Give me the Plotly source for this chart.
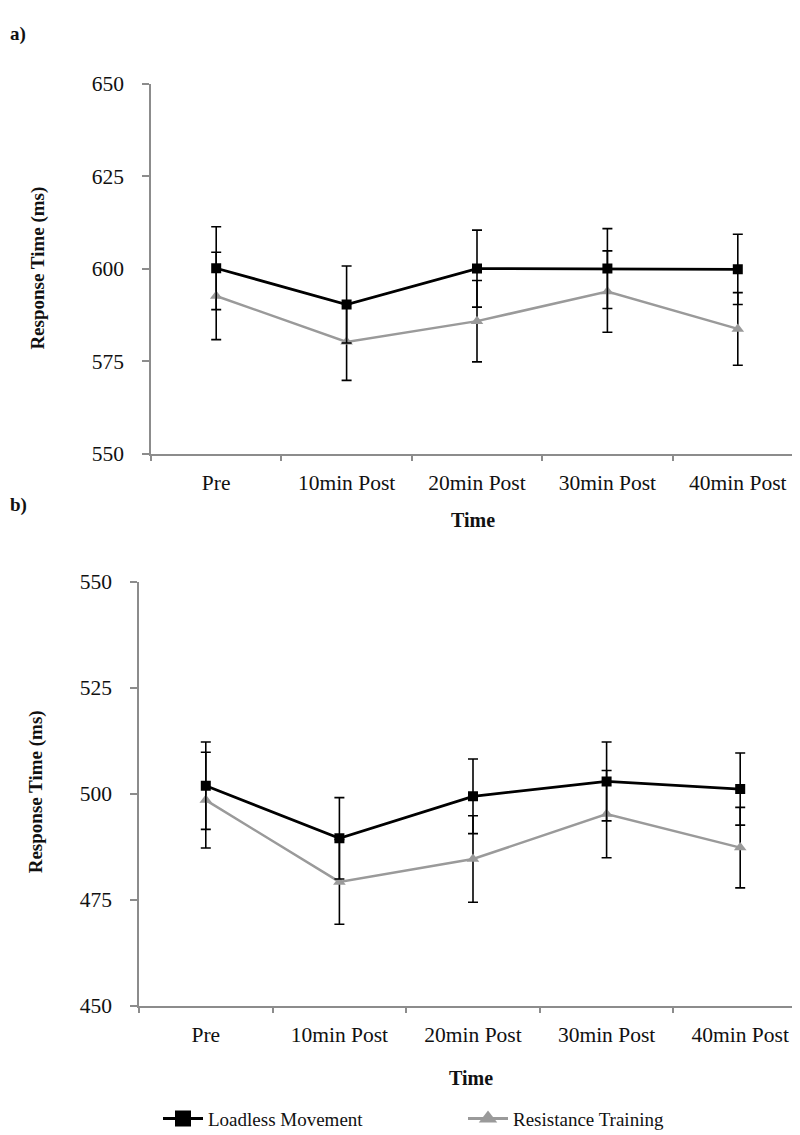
import plotly.graph_objects as go

categories = ["Pre", "10min Post", "20min Post", "30min Post", "40min Post"]

# Panel a
a_lm = [600.1, 590.3, 600.0, 600.0, 599.8]
a_lm_err = [11.2, 10.4, 10.4, 10.8, 9.5]
a_rt = [592.6, 580.2, 585.8, 593.8, 583.7]
a_rt_err = [11.8, 10.4, 11.0, 11.0, 9.8]

# Panel b
b_lm = [501.9, 489.5, 499.4, 502.9, 501.1]
b_lm_err = [10.3, 9.6, 8.8, 9.3, 8.5]
b_rt = [498.5, 479.2, 484.6, 495.2, 487.3]
b_rt_err = [11.3, 10.0, 10.2, 10.3, 9.5]

a_ticks = [550, 575, 600, 625, 650]
b_ticks = [450, 475, 500, 525, 550]

series_names = ["Loadless Movement", "Resistance Training"]

W, H = 800, 1135
SERIF = "Liberation Serif, Times New Roman, serif"
GRAY_AX = "#8c8c8c"
LM_COLOR = "#000000"
RT_COLOR = "#9a9a9a"


def px_x(p):
    return p / W


def px_y(p):
    return 1 - p / H


fig = go.Figure()


def add_pair(lm, lm_err, rt, rt_err, xa, ya):
    fig.add_trace(go.Scatter(
        x=categories, y=rt, xaxis=xa, yaxis=ya, mode="lines+markers",
        name=series_names[1], showlegend=False,
        line=dict(color=RT_COLOR, width=2.5),
        marker=dict(symbol="triangle-up", size=11, color=RT_COLOR),
        error_y=dict(type="data", array=rt_err, visible=True, color="#000000",
                     thickness=1.6, width=5),
    ))
    fig.add_trace(go.Scatter(
        x=categories, y=lm, xaxis=xa, yaxis=ya, mode="lines+markers",
        name=series_names[0], showlegend=False,
        line=dict(color=LM_COLOR, width=2.8),
        marker=dict(symbol="square", size=10, color=LM_COLOR),
        error_y=dict(type="data", array=lm_err, visible=True, color="#000000",
                     thickness=1.6, width=5),
    ))


add_pair(a_lm, a_lm_err, a_rt, a_rt_err, "x", "y")
add_pair(b_lm, b_lm_err, b_rt, b_rt_err, "x2", "y2")

# legend entries (larger symbols, as in the reference legend)
fig.add_trace(go.Scatter(x=[None], y=[None], mode="lines+markers", name=series_names[0],
                         line=dict(color=LM_COLOR, width=3),
                         marker=dict(symbol="square", size=16, color=LM_COLOR),
                         legendrank=1))
fig.add_trace(go.Scatter(x=[None], y=[None], mode="lines+markers", name=series_names[1],
                         line=dict(color=RT_COLOR, width=3),
                         marker=dict(symbol="triangle-up", size=16, color=RT_COLOR),
                         legendrank=2))

xcommon = dict(type="category", categoryorder="array", categoryarray=categories,
               range=[-0.5, 4.5], showline=True, linecolor=GRAY_AX, linewidth=1.5,
               ticks="outside", tickson="boundaries", ticklen=6, tickcolor=GRAY_AX,
               tickwidth=1.5, showgrid=False, zeroline=False,
               tickfont=dict(family=SERIF, size=21.5, color="#111111"),
               ticklabelstandoff=9)
ycommon = dict(showline=True, linecolor=GRAY_AX, linewidth=1.5, ticks="outside",
               ticklen=7, tickcolor=GRAY_AX, tickwidth=1.5, showgrid=False,
               zeroline=False, tickfont=dict(family=SERIF, size=21.5, color="#111111"),
               ticklabelstandoff=14)

fig.update_layout(
    width=W, height=H, margin=dict(l=0, r=0, t=0, b=0),
    paper_bgcolor="white", plot_bgcolor="white",
    xaxis=dict(domain=[px_x(143), px_x(795)], anchor="y", **xcommon),
    yaxis=dict(domain=[px_y(444), px_y(66)], anchor="x", range=[550, 650],
               tickvals=a_ticks, **ycommon),
    xaxis2=dict(domain=[px_x(131), px_x(799)], anchor="y2", **xcommon),
    yaxis2=dict(domain=[px_y(1008), px_y(575)], anchor="x2", range=[450, 550],
                tickvals=b_ticks, **ycommon),
    showlegend=True,
    legend=dict(orientation="h", x=px_x(150), y=px_y(1104), xanchor="left",
                yanchor="top", font=dict(family=SERIF, size=19, color="#111111"),
                entrywidth=250, entrywidthmode="pixels", traceorder="normal",
                bgcolor="rgba(0,0,0,0)", itemwidth=40),
)

ann = []
ann.append(dict(text="<b>a)</b>", x=px_x(0), y=px_y(2), xref="paper", yref="paper",
                xanchor="left", yanchor="top", showarrow=False,
                font=dict(family=SERIF, size=19, color="#111111")))
ann.append(dict(text="<b>b)</b>", x=px_x(0), y=px_y(483), xref="paper", yref="paper",
                xanchor="left", yanchor="top", showarrow=False,
                font=dict(family=SERIF, size=19, color="#111111")))
ann.append(dict(text="<b>Time</b>", x=px_x(465), y=px_y(512), xref="paper", yref="paper",
                xanchor="center", yanchor="middle", showarrow=False,
                font=dict(family=SERIF, size=20, color="#111111")))
ann.append(dict(text="<b>Time</b>", x=px_x(463), y=px_y(1082), xref="paper", yref="paper",
                xanchor="center", yanchor="middle", showarrow=False,
                font=dict(family=SERIF, size=20, color="#111111")))
ann.append(dict(text="<b>Response Time (ms)</b>", x=px_x(30), y=px_y(255), xref="paper",
                yref="paper", xanchor="center", yanchor="middle", showarrow=False,
                textangle=-90, font=dict(family=SERIF, size=19, color="#111111")))
ann.append(dict(text="<b>Response Time (ms)</b>", x=px_x(28), y=px_y(790), xref="paper",
                yref="paper", xanchor="center", yanchor="middle", showarrow=False,
                textangle=-90, font=dict(family=SERIF, size=19, color="#111111")))
fig.update_layout(annotations=ann)

fig.write_html("out.html")
